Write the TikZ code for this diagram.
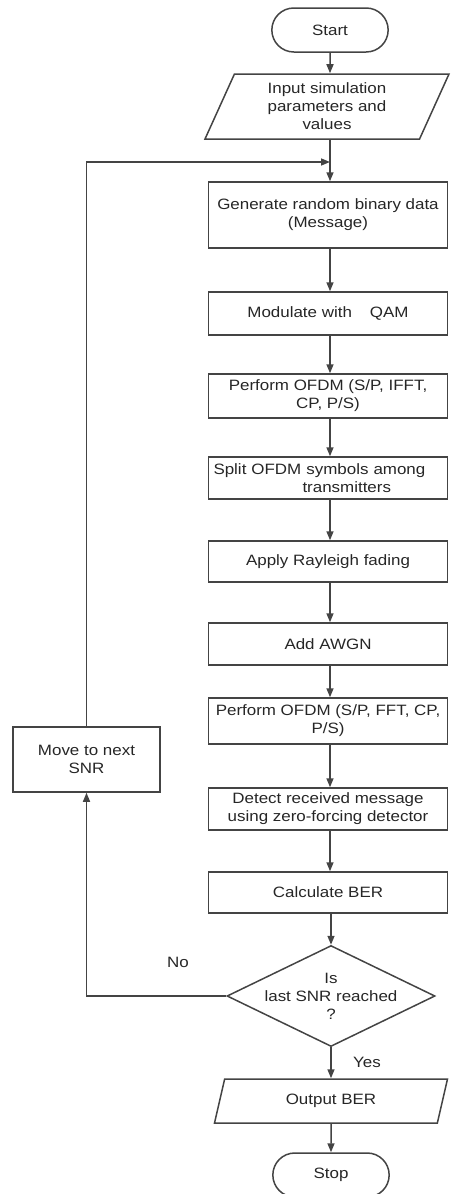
\documentclass[tikz,border=0pt]{standalone}
\usepackage{fontspec}
\setmainfont{Liberation Sans}[FakeStretch=1.13]
\usetikzlibrary{shapes.geometric, shapes.misc, arrows.meta}

\definecolor{linegray}{HTML}{444444}
\definecolor{textgray}{HTML}{262626}

\tikzset{
	proc box/.style = {draw = linegray, line width = 1.5pt, rectangle, minimum width = 239, align = center, inner sep = 2pt, text = textgray, font = \fontsize{15}{18}\selectfont},
	io box/.style = {draw = linegray, line width = 1.5pt, trapezium, trapezium left angle = 60, trapezium right angle = 120, trapezium stretches body, align = center, inner sep = 2pt, text = textgray, font = \fontsize{15}{18}\selectfont},
	term box/.style = {draw = linegray, line width = 1.5pt, rounded rectangle, minimum width = 123, minimum height = 44, text = textgray, font = \fontsize{15}{18}\selectfont},
	dec box/.style = {draw = linegray, line width = 1.5pt, diamond, aspect = 2.06, inner sep = -3.3pt, align = center, text = textgray, font = \fontsize{15}{18}\selectfont},
	flow arrow/.style = {-{Triangle[length = 9pt, width = 7pt]}, draw = linegray, line width = 1.5pt}
}

\begin{document}
\begin{tikzpicture}[x = 1pt, y = -1pt]
	\useasboundingbox (0, 0) rectangle (450, 1194);

	% Define the flow chart nodes
	\node[term box] (start) at (330, 30) {Start};
	\node[io box, minimum width = 244, minimum height = 65] (input) at (327, 106.5) {Input simulation\\parameters and\\values};
	\coordinate (merge) at (330, 162);
	\node[proc box, minimum height = 66] (gen) at (328, 215) {Generate random binary data\\(Message)};
	\node[proc box, minimum height = 43] (mod) at (328, 313.5) {Modulate with\hspace{1.2em}QAM};
	\node[proc box, minimum height = 44] (ofdmtx) at (328, 396) {Perform OFDM (S/P, IFFT,\\CP, P/S)};
	\node[proc box, minimum height = 42, text width = 229, align = left] (split) at (328, 478) {Split OFDM symbols among\\\hspace*{89pt}transmitters};
	\node[proc box, minimum height = 41] (fade) at (328, 561.5) {Apply Rayleigh fading};
	\node[proc box, minimum height = 42] (awgn) at (328, 644) {Add AWGN};
	\node[proc box, minimum height = 46] (ofdmrx) at (328, 721) {Perform OFDM (S/P, FFT, CP,\\P/S)};
	\node[proc box, minimum height = 42] (detect) at (328, 809) {Detect received message\\using zero-forcing detector};
	\node[proc box, minimum height = 41] (ber) at (328, 892.5) {Calculate BER};
	\node[dec box] (last) at (331, 996) {Is\\last SNR reached\\?};
	\node[io box, minimum width = 233, minimum height = 44] (output) at (331, 1101) {Output BER};
	\node[term box] (stop) at (331, 1175) {Stop};
	\node[proc box, minimum width = 147, minimum height = 65] (next) at (86.5, 759.5) {Move to next\\SNR};

	% Draw the main flow
	\draw[flow arrow] (start) -- (input.north -| start);
	\draw[flow arrow] (input.south -| merge) -- (gen.north -| merge);
	\draw[flow arrow] (gen.south -| merge) -- (mod.north -| merge);
	\draw[flow arrow] (mod.south -| merge) -- (ofdmtx.north -| merge);
	\draw[flow arrow] (ofdmtx.south -| merge) -- (split.north -| merge);
	\draw[flow arrow] (split.south -| merge) -- (fade.north -| merge);
	\draw[flow arrow] (fade.south -| merge) -- (awgn.north -| merge);
	\draw[flow arrow] (awgn.south -| merge) -- (ofdmrx.north -| merge);
	\draw[flow arrow] (ofdmrx.south -| merge) -- (detect.north -| merge);
	\draw[flow arrow] (detect.south -| merge) -- (ber.north -| merge);
	\draw[flow arrow] (ber.south -| last) -- (last);
	\draw[flow arrow] (last) -- (output.north -| last) node[midway, right, xshift = 18pt, text = textgray, font = \fontsize{15}{18}\selectfont] {Yes};
	\draw[flow arrow] (output.south -| stop) -- (stop);

	% Draw the loop back to the next SNR
	\draw[flow arrow] (last.west) -| (next.south);
	\draw[flow arrow] (next.north) |- (merge);
	\node[text = textgray, font = \fontsize{15}{18}\selectfont] (no) at (178, 962) {No};
\end{tikzpicture}
\end{document}
